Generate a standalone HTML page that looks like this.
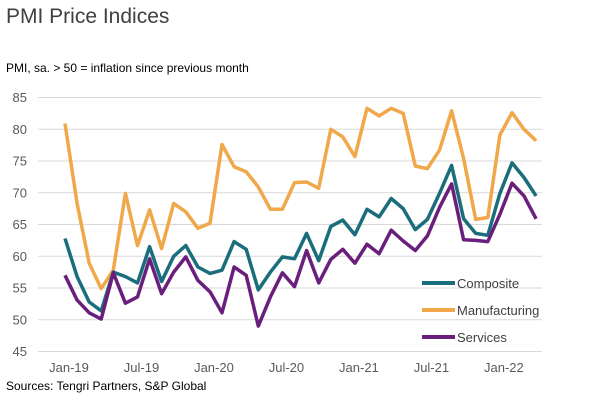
<!DOCTYPE html>
<html><head><meta charset="utf-8"><style>
body{margin:0;background:#fff;}
svg text{font-family:"Liberation Sans",sans-serif;}
</style></head><body>
<svg id="chart" width="600" height="403" xmlns="http://www.w3.org/2000/svg">
<text x="6" y="23" font-size="21" fill="#404040">PMI Price Indices</text>
<text x="6" y="72" font-size="12" fill="#000">PMI, sa. &gt; 50 = inflation  since previous  month</text>
<text x="6" y="390" font-size="12" fill="#000">Sources: Tengri  Partners,  S&amp;P Global</text>
<g id="grid"></g><g id="series"></g><g id="xl"></g>
<g>
<line x1="422" y1="283" x2="455" y2="283" stroke="#1a6e7c" stroke-width="4"/>
<text x="457" y="288" font-size="13" fill="#404040">Composite</text>
<line x1="422" y1="310" x2="455" y2="310" stroke="#f0a84a" stroke-width="4"/>
<text x="457" y="315" font-size="13" fill="#404040">Manufacturing</text>
<line x1="422" y1="337" x2="455" y2="337" stroke="#6b1f7c" stroke-width="4"/>
<text x="457" y="342" font-size="13" fill="#404040">Services</text>
</g>
</svg>
<script>
const yTicks=[45,50,55,60,65,70,75,80,85];
const xLabels=["Jan-19","Jul-19","Jan-20","Jul-20","Jan-21","Jul-21","Jan-22"];
const xLabelIdx=[0,6,12,18,24,30,36];
const manufacturing=[80.9,68.3,58.9,54.9,57.8,69.9,61.7,67.3,61.2,68.3,67,64.4,65.2,77.6,74.1,73.3,70.9,67.4,67.4,71.6,71.7,70.7,80,78.8,75.7,83.3,82.1,83.3,82.5,74.2,73.8,76.7,82.9,75.4,65.8,66.1,79.1,82.6,80,78.2];
const composite=[62.8,56.8,52.8,51.4,57.5,56.8,55.8,61.5,56,60,61.7,58.3,57.3,57.8,62.3,61.1,54.7,57.5,59.9,59.6,63.6,59.3,64.7,65.7,63.4,67.4,66.2,69.1,67.5,64.2,65.8,69.9,74.3,65.9,63.6,63.3,69.9,74.7,72.4,69.5];
const services=[57,53.1,51.1,50.1,57.4,52.6,53.6,59.6,54.1,57.5,59.9,56.2,54.4,51.1,58.3,57,49,53.6,57.4,55.2,60.9,55.8,59.5,61.1,58.9,61.9,60.4,64.1,62.4,60.9,63.2,67.7,71.4,62.6,62.5,62.3,66.6,71.5,69.5,65.9];
const NS="http://www.w3.org/2000/svg";
const x=i=>65+i*12.08;
const y=v=>97.5+(85-v)*6.35;
const grid=document.getElementById('grid');
yTicks.forEach(t=>{
 const l=document.createElementNS(NS,'line');
 l.setAttribute('x1',38);l.setAttribute('x2',542);l.setAttribute('y1',y(t));l.setAttribute('y2',y(t));
 l.setAttribute('stroke','#d9d9d9');l.setAttribute('stroke-width','1');
 
 
 grid.appendChild(l);
 const tx=document.createElementNS(NS,'text');
 tx.setAttribute('x',27);tx.setAttribute('y',y(t)+4.5);tx.setAttribute('text-anchor','end');
 tx.setAttribute('font-size','13');tx.setAttribute('fill','#595959');tx.textContent=t;
 
 
 grid.appendChild(tx);
});
const xl=document.getElementById('xl');
xLabels.forEach((s,k)=>{
 const tx=document.createElementNS(NS,'text');
 tx.setAttribute('x',x(xLabelIdx[k])+4);tx.setAttribute('y',372);tx.setAttribute('text-anchor','middle');
 tx.setAttribute('font-size','13');tx.setAttribute('fill','#595959');tx.textContent=s;
 
 
 xl.appendChild(tx);
});
const sg=document.getElementById('series');
[[manufacturing,'#f0a84a','manufacturing-line'],[composite,'#1a6e7c','composite-line'],[services,'#6b1f7c','services-line']].forEach(([d,c,n])=>{
 const p=document.createElementNS(NS,'polyline');
 p.setAttribute('points',d.map((v,i)=>x(i).toFixed(1)+','+y(v).toFixed(1)).join(' '));
 p.setAttribute('fill','none');p.setAttribute('stroke',c);p.setAttribute('stroke-width','3.5');p.setAttribute('stroke-linejoin','round');
 
 
 sg.appendChild(p);
});
</script>
</body></html>
